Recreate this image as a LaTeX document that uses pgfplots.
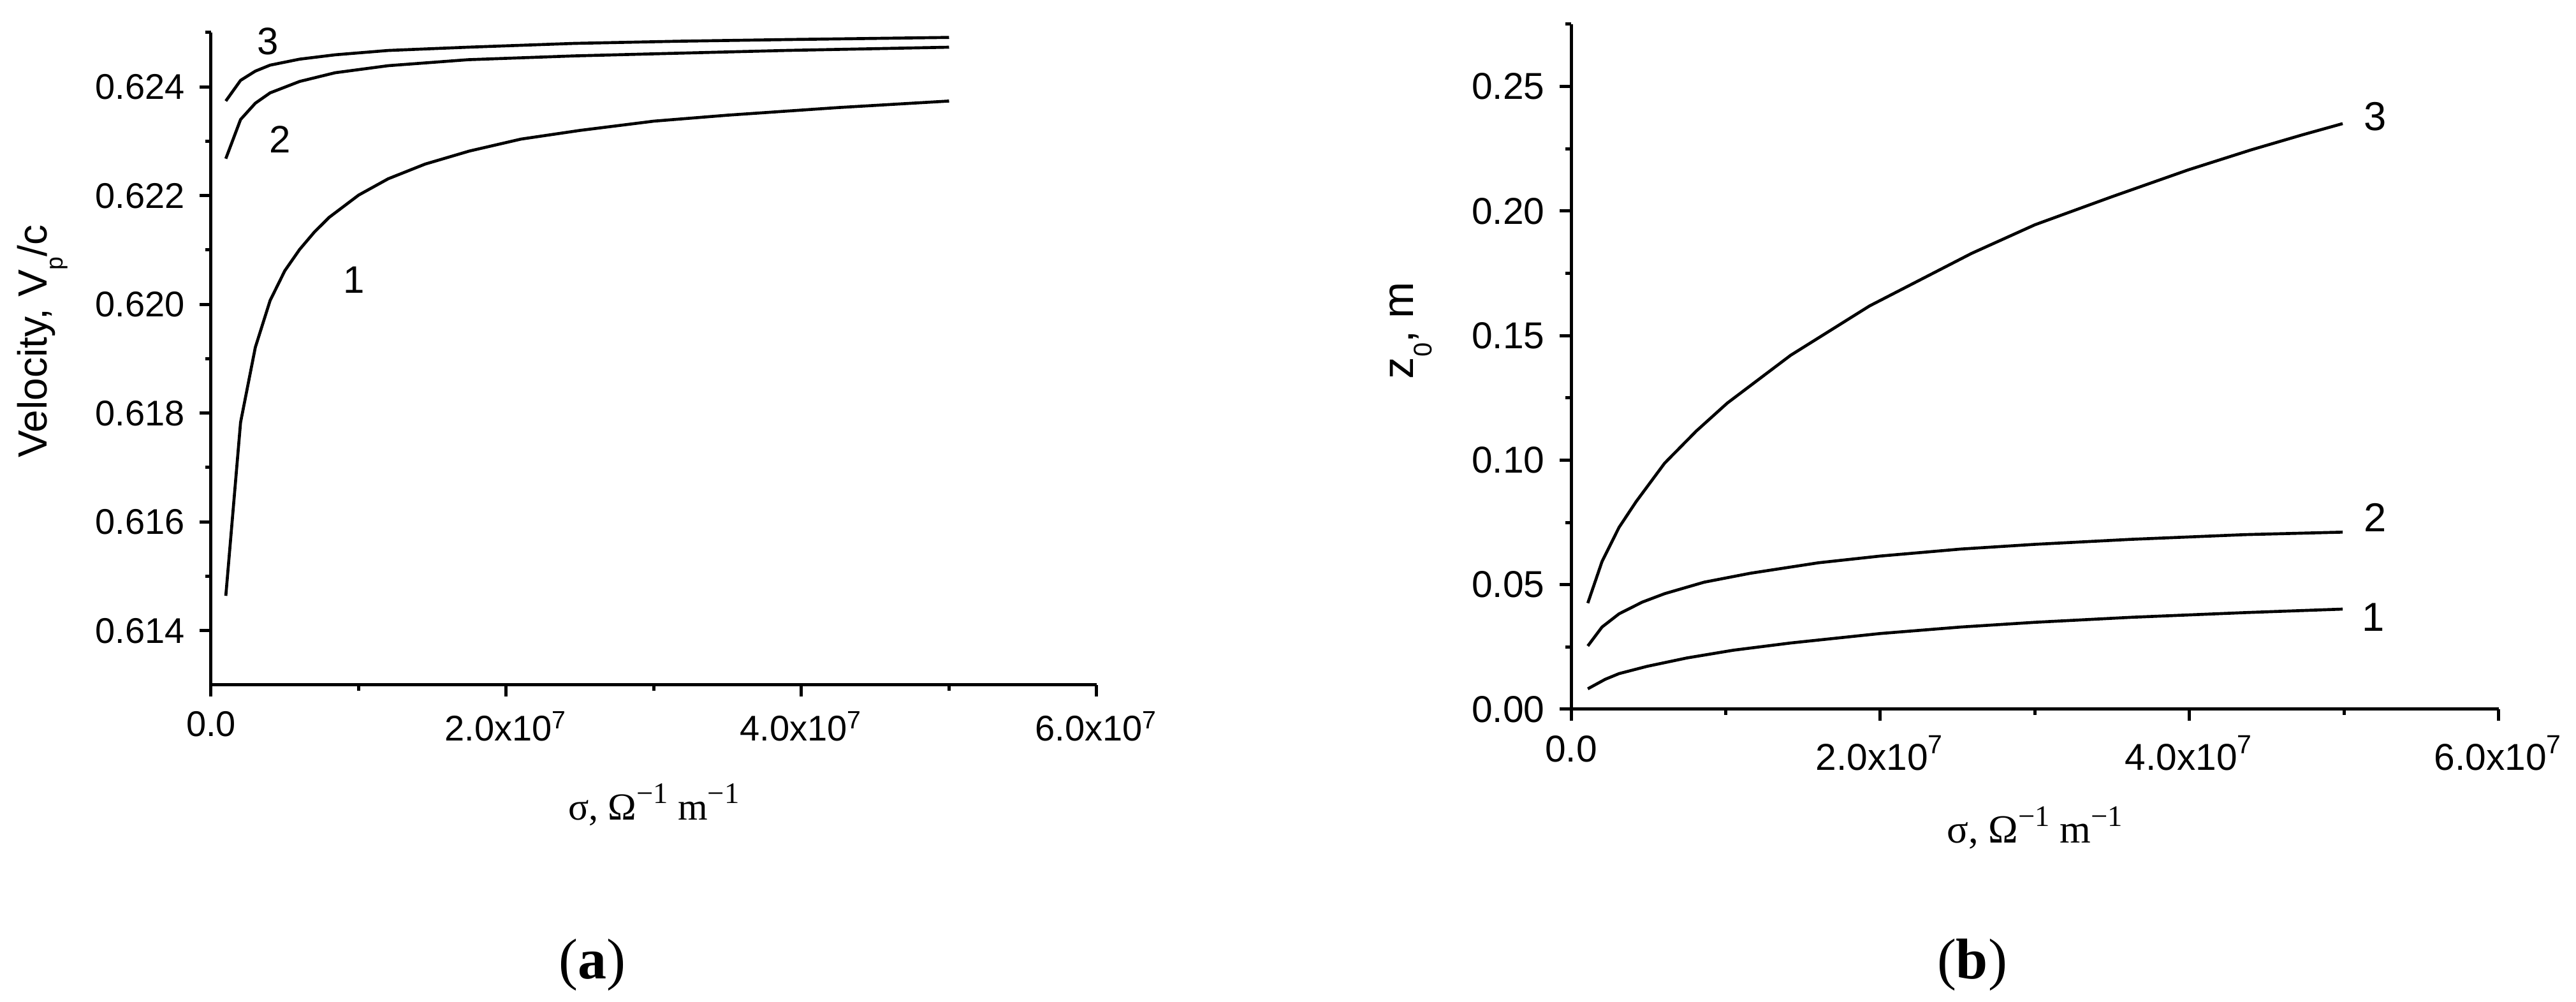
\documentclass[border=0pt]{standalone}
\usepackage{fontspec}
\setmainfont{Liberation Sans}
\newfontfamily\tnr{Liberation Serif}
\usepackage{pgfplots}
\pgfplotsset{compat=1.18}

% shared look of both panels
\pgfplotsset{
  panel/.style={
    scale only axis,
    anchor=south west,
    xmin=0, xmax=6e7,
    axis x line*=bottom,
    axis y line*=left,
    axis line style={line width=0.75pt},
    every tick/.style={black, line width=0.75pt},
    tick align=outside,
    major tick length=2.7pt,
    minor tick length=1.3pt,
    xtick={0,2e7,4e7,6e7},
    minor xtick={1e7,3e7,5e7},
    xticklabels={0.0, 2.0x10\textsuperscript{7}, 4.0x10\textsuperscript{7}, 6.0x10\textsuperscript{7}},
    scaled ticks=false,
    /pgf/number format/assume math mode=true,
    clip=false,
    cycle list={{black, mark=none}},
    every axis plot/.append style={line width=0.7pt, line join=round},
  },
}

\begin{document}
\begin{tikzpicture}
\path[use as bounding box] (0,0) rectangle (606pt,235.65pt);

% (a) phase velocity
\begin{axis}[
  panel,
  at={(49.65pt,74.55pt)},
  width=208.35pt, height=153.45pt,
  ymin=0.613, ymax=0.625,
  ytick={0.614,0.616,0.618,0.620,0.622,0.624},
  yticklabels={0.614,0.616,0.618,0.620,0.622,0.624},
  minor ytick={0.615,0.617,0.619,0.621,0.623,0.625},
  ticklabel style={font=\fontsize{8.4}{10}\selectfont},
  xlabel={\tnr σ, Ω\raisebox{0.42em}{\fontsize{7}{7}\selectfont −1} m\raisebox{0.42em}{\fontsize{7}{7}\selectfont −1}},
  xlabel style={font=\fontsize{9}{10}\selectfont, at={(axis description cs:0.5,-0.2063)}, anchor=base},
  ylabel={Velocity, V\raisebox{-0.4em}{\fontsize{5.6}{6}\selectfont p}/c},
  ylabel style={font=\fontsize{9.6}{11}\selectfont, at={(axis description cs:-0.1857,0.527)}, anchor=base},
]
\addplot coordinates {
  (1e6,0.61464) (2e6,0.61783) (3e6,0.61921) (4e6,0.62007) (5e6,0.62062)
  (6e6,0.62101) (7e6,0.62133) (8e6,0.62160) (1e7,0.62201) (1.2e7,0.62231)
  (1.45e7,0.62258) (1.75e7,0.62282) (2.1e7,0.62304) (2.5e7,0.62320)
  (3e7,0.62337) (3.5e7,0.62348) (4.25e7,0.62362) (5e7,0.62374)
};
\addplot coordinates {
  (1e6,0.62268) (2e6,0.62340) (3e6,0.62370) (4e6,0.62389) (6e6,0.62410)
  (8.4e6,0.62426) (1.2e7,0.62439) (1.74e7,0.62450) (2.46e7,0.62457)
  (3.17e7,0.62462) (3.89e7,0.62467) (5e7,0.62473)
};
\addplot coordinates {
  (1e6,0.62374) (2e6,0.62412) (3e6,0.62429) (4e6,0.62440) (6e6,0.62451)
  (8.4e6,0.62459) (1.2e7,0.62467) (1.74e7,0.62473) (2.46e7,0.62480)
  (3.17e7,0.62484) (3.89e7,0.62487) (5e7,0.62491)
};
\node[font=\fontsize{9}{10}\selectfont] at (axis cs:3.87e6,0.62484) {3};
\node[font=\fontsize{9}{10}\selectfont] at (axis cs:4.66e6,0.62303) {2};
\node[font=\fontsize{9}{10}\selectfont] at (axis cs:9.68e6,0.62045) {1};
\end{axis}

% (b) z0
\begin{axis}[
  panel,
  at={(369.6pt,68.85pt)},
  width=218.25pt, height=161.1pt,
  ymin=0, ymax=0.275,
  ytick={0,0.05,0.10,0.15,0.20,0.25},
  yticklabels={0.00,0.05,0.10,0.15,0.20,0.25},
  minor ytick={0.025,0.075,0.125,0.175,0.225,0.275},
  ticklabel style={font=\fontsize{8.8}{10}\selectfont},
  xlabel={\tnr σ, Ω\raisebox{0.42em}{\fontsize{7}{7}\selectfont −1} m\raisebox{0.42em}{\fontsize{7}{7}\selectfont −1}},
  xlabel style={font=\fontsize{9.4}{10}\selectfont, at={(axis description cs:0.5,-0.1955)}, anchor=base},
  ylabel={z\raisebox{-0.42em}{\fontsize{6}{6}\selectfont 0}, m},
  ylabel style={font=\fontsize{10.3}{11}\selectfont, at={(axis description cs:-0.170,0.553)}, anchor=base},
]
\addplot coordinates {
  (1.08e6,0.0082) (2.2e6,0.0120) (3.1e6,0.0143) (4.9e6,0.0172) (7.5e6,0.0206)
  (1.05e7,0.0237) (1.42e7,0.0266) (2.0e7,0.0304) (2.52e7,0.0330)
  (3.0e7,0.0349) (3.62e7,0.0369) (4.36e7,0.0388) (4.99e7,0.0402)
};
\addplot coordinates {
  (1.08e6,0.0254) (2.0e6,0.0330) (3.1e6,0.0383) (4.6e6,0.0430) (6.05e6,0.0464)
  (8.6e6,0.0510) (1.16e7,0.0546) (1.6e7,0.0588) (2.0e7,0.0615) (2.52e7,0.0643)
  (3.0e7,0.0662) (3.62e7,0.0682) (4.36e7,0.0701) (4.99e7,0.0711)
};
\addplot coordinates {
  (1.08e6,0.0426) (2.0e6,0.0593) (3.1e6,0.0730) (4.2e6,0.0833) (6.05e6,0.0988)
  (8.1e6,0.1117) (1.01e7,0.1229) (1.42e7,0.1421) (1.93e7,0.1619) (2.59e7,0.1830)
  (3.0e7,0.1945) (3.5e7,0.2058) (3.99e7,0.2165) (4.4e7,0.2246) (4.73e7,0.2306)
  (4.99e7,0.2351)
};
\node[font=\fontsize{9.5}{10}\selectfont] at (axis cs:5.2e7,0.2380) {3};
\node[font=\fontsize{9.5}{10}\selectfont] at (axis cs:5.2e7,0.0770) {2};
\node[font=\fontsize{9.5}{10}\selectfont] at (axis cs:5.19e7,0.0369) {1};
\end{axis}

\node[font=\tnr\fontsize{13.5}{14}\selectfont, anchor=base] at (139.35pt,5.4pt) {(\textbf{a})};
\node[font=\tnr\fontsize{13.5}{14}\selectfont, anchor=base] at (463.95pt,5.4pt) {(\textbf{b})};
\end{tikzpicture}
\end{document}
